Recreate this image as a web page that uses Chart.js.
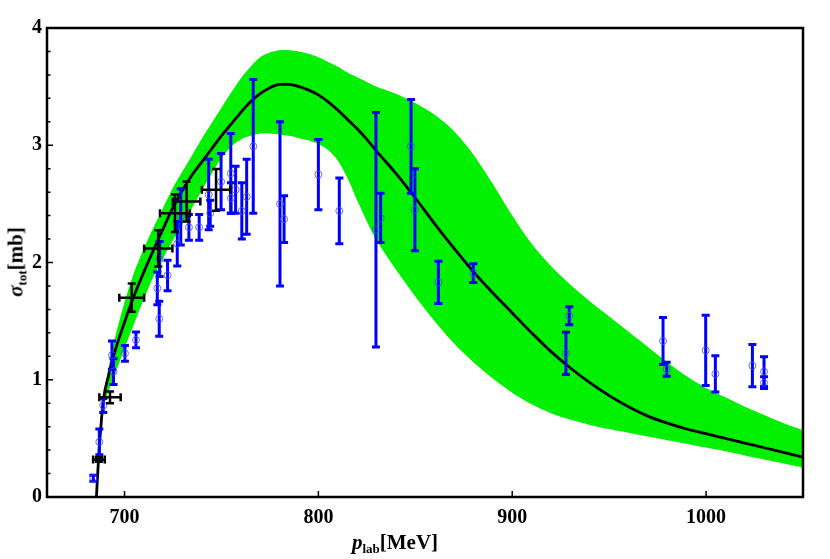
<!DOCTYPE html>
<html>
<head>
<meta charset="utf-8">
<script src="https://cdn.jsdelivr.net/npm/chart.js@4.4.1/dist/chart.umd.min.js"></script>
<style>
  body { margin: 0; background: #fff; }
  #wrap { position: relative; width: 830px; height: 559px; }
  .lbl { position: absolute; font-family: "Liberation Serif", serif; font-weight: bold; font-size: 21px; white-space: nowrap; color: #000; }
  .lbl sub { font-size: 13px; vertical-align: baseline; position: relative; top: 4px; }
  #ylab { left: 16px; top: 262px; transform: translate(-50%, -50%) rotate(-90deg); }
  #xlab { left: 395px; top: 542px; transform: translate(-50%, -50%); }
</style>
</head>
<body>
<div id="wrap">
  <canvas id="myChart" width="830" height="559"></canvas>
  <div class="lbl" id="ylab"><i>σ</i><sub>tot</sub>[mb]</div>
  <div class="lbl" id="xlab"><i>p</i><sub>lab</sub>[MeV]</div>
</div>
<script>
// tick labels
var xTicks = [700, 800, 900, 1000]
var yTicks = [0, 1, 2, 3, 4]

// theory curve (black line)
var curveX = [685.5, 686.5, 687.7, 689, 692, 695, 700, 705, 710, 715, 720, 725, 730, 735, 740, 745, 750, 755, 760, 765, 770, 775, 780, 785, 790, 795, 800, 805, 810, 815, 820, 825, 830, 840, 850, 860, 870, 880, 890, 900, 910, 920, 930, 940, 950, 960, 970, 980, 990, 1000, 1010, 1020, 1030, 1040, 1050]
var curveY = [0, 0.30, 0.58, 0.82, 1.05, 1.24, 1.49, 1.72, 1.92, 2.11, 2.29, 2.47, 2.62, 2.75, 2.86, 2.97, 3.08, 3.18, 3.28, 3.37, 3.44, 3.49, 3.52, 3.52, 3.50, 3.47, 3.43, 3.37, 3.30, 3.22, 3.14, 3.05, 2.95, 2.76, 2.55, 2.33, 2.12, 1.92, 1.74, 1.57, 1.40, 1.24, 1.10, 0.975, 0.865, 0.77, 0.69, 0.63, 0.58, 0.54, 0.50, 0.46, 0.42, 0.38, 0.34]

// uncertainty band (green)
var bandX = [688.5, 690, 695, 700, 705, 710, 715, 720, 725, 730, 735, 740, 745, 750, 755, 760, 765, 770, 775, 780, 785, 790, 795, 800, 805, 810, 815, 820, 825, 830, 840, 850, 860, 870, 880, 890, 900, 910, 920, 930, 940, 950, 960, 970, 980, 990, 1000, 1010, 1020, 1030, 1040, 1050]
var bandUpper = [0.72, 0.95, 1.35, 1.66, 1.92, 2.12, 2.30, 2.47, 2.64, 2.78, 2.92, 3.06, 3.19, 3.32, 3.45, 3.57, 3.67, 3.75, 3.79, 3.81, 3.81, 3.80, 3.78, 3.75, 3.71, 3.67, 3.62, 3.58, 3.54, 3.50, 3.44, 3.36, 3.26, 3.12, 2.92, 2.67, 2.40, 2.16, 1.97, 1.81, 1.67, 1.54, 1.41, 1.28, 1.15, 1.03, 0.93, 0.85, 0.77, 0.70, 0.63, 0.57]
var bandLower = [0.72, 0.82, 1.04, 1.27, 1.48, 1.69, 1.88, 2.04, 2.19, 2.33, 2.47, 2.62, 2.76, 2.89, 2.99, 3.05, 3.08, 3.10, 3.10, 3.09, 3.08, 3.06, 3.04, 3.01, 2.96, 2.87, 2.72, 2.53, 2.35, 2.19, 1.94, 1.71, 1.50, 1.31, 1.15, 1.01, 0.89, 0.79, 0.715, 0.66, 0.615, 0.58, 0.548, 0.516, 0.485, 0.455, 0.422, 0.39, 0.355, 0.32, 0.285, 0.25]

// blue data (open circles, vertical error bars)
var blueX = [683.9, 687.0, 689.0, 693.5, 694.3, 700.2, 705.9, 716.9, 717.9, 718.1, 722.2, 727.2, 729.0, 733.2, 738.5, 743.4, 744.2, 749.8, 754.8, 754.9, 757.3, 760.5, 763.0, 766.4, 780.2, 782.3, 800.0, 810.8, 829.7, 832.1, 847.8, 849.8, 861.9, 879.9, 927.7, 929.4, 977.8, 979.7, 999.8, 1004.8, 1023.9, 1029.9, 1029.9]
var blueY = [0.16, 0.47, 0.78, 1.21, 1.07, 1.225, 1.34, 1.78, 1.52, 2.03, 1.89, 2.16, 2.39, 2.30, 2.30, 2.58, 2.42, 2.69, 2.76, 2.55, 2.62, 2.44, 2.56, 2.99, 2.50, 2.37, 2.75, 2.44, 2.28, 2.38, 2.99, 2.45, 1.83, 1.91, 1.225, 1.546, 1.33, 1.09, 1.25, 1.05, 1.12, 1.07, 0.975]
var blueErr = [0.025, 0.11, 0.06, 0.12, 0.11, 0.067, 0.067, 0.14, 0.15, 0.15, 0.13, 0.19, 0.24, 0.11, 0.11, 0.30, 0.11, 0.24, 0.34, 0.13, 0.20, 0.24, 0.32, 0.57, 0.70, 0.20, 0.30, 0.28, 1.00, 0.21, 0.40, 0.35, 0.18, 0.08, 0.18, 0.077, 0.20, 0.06, 0.30, 0.155, 0.18, 0.127, 0.05]

// black data (crosses, x and y error bars)
var blackX = [686.8, 692.5, 703.7, 717.4, 726.0, 732.0, 747.2]
var blackY = [0.32, 0.85, 1.70, 2.12, 2.42, 2.52, 2.62]
var blackXErr = [3, 5.5, 6.4, 7.3, 7.7, 7.1, 7.3]
var blackYErr = [0.02, 0.05, 0.12, 0.155, 0.16, 0.17, 0.178]

function pts(xs, ys) {
  return xs.map(function(v, i) { return {x: v, y: ys[i]} })
}

// error bars, crosses, frame and inward ticks
var extras = {
  id: 'extras',
  beforeDatasetDraw: function(chart, args) {
    if (args.index !== 3) return
    var ctx = chart.ctx, sx = chart.scales.x, sy = chart.scales.y, a = chart.chartArea
    ctx.save()
    ctx.beginPath(); ctx.rect(a.left, a.top, a.right - a.left, a.bottom - a.top); ctx.clip()
    ctx.strokeStyle = '#0000ff'
    ctx.lineWidth = 3
    blueX.forEach(function(v, i) {
      var px = sx.getPixelForValue(v)
      var y1 = sy.getPixelForValue(blueY[i] + blueErr[i])
      var y2 = sy.getPixelForValue(blueY[i] - blueErr[i])
      ctx.beginPath()
      ctx.moveTo(px, y1); ctx.lineTo(px, y2)
      ctx.moveTo(px - 4, y1); ctx.lineTo(px + 4, y1)
      ctx.moveTo(px - 4, y2); ctx.lineTo(px + 4, y2)
      ctx.stroke()
    })
    ctx.restore()
  },
  afterDatasetsDraw: function(chart) {
    var ctx = chart.ctx, sx = chart.scales.x, sy = chart.scales.y
    ctx.save()
    ctx.strokeStyle = '#000'
    ctx.lineWidth = 2.5
    blackX.forEach(function(v, i) {
      var px = sx.getPixelForValue(v), py = sy.getPixelForValue(blackY[i])
      var x1 = sx.getPixelForValue(v - blackXErr[i]), x2 = sx.getPixelForValue(v + blackXErr[i])
      var y1 = sy.getPixelForValue(blackY[i] + blackYErr[i]), y2 = sy.getPixelForValue(blackY[i] - blackYErr[i])
      ctx.beginPath()
      ctx.moveTo(x1, py); ctx.lineTo(x2, py)
      ctx.moveTo(x1, py - 4); ctx.lineTo(x1, py + 4)
      ctx.moveTo(x2, py - 4); ctx.lineTo(x2, py + 4)
      ctx.moveTo(px, y1); ctx.lineTo(px, y2)
      ctx.moveTo(px - 4, y1); ctx.lineTo(px + 4, y1)
      ctx.moveTo(px - 4, y2); ctx.lineTo(px + 4, y2)
      ctx.stroke()
    })
    ctx.restore()
  },
  afterDraw: function(chart) {
    var ctx = chart.ctx, sx = chart.scales.x, sy = chart.scales.y, a = chart.chartArea
    ctx.save()
    ctx.strokeStyle = '#000'
    ctx.lineWidth = 1.5
    ctx.beginPath()
    xTicks.forEach(function(v) {
      var px = sx.getPixelForValue(v)
      ctx.moveTo(px, a.bottom); ctx.lineTo(px, a.bottom - 6)
    })
    for (var k = 0; k <= 20; k++) {
      var py = sy.getPixelForValue(k * 0.2)
      var len = (k % 5 === 0) ? 6 : 3.5
      ctx.moveTo(a.left, py); ctx.lineTo(a.left + len, py)
    }
    ctx.stroke()
    ctx.lineWidth = 2.5
    ctx.strokeRect(a.left, a.top, a.right - a.left, a.bottom - a.top)
    ctx.restore()
  }
}

var mychart = document.getElementById('myChart').getContext('2d')

var chart = new Chart(mychart, {
  type: 'scatter',
  data: {
    datasets: [{
      label: 'band upper',
      data: pts(bandX, bandUpper),
      showLine: true,
      borderWidth: 0,
      borderColor: 'rgba(0,0,0,0)',
      backgroundColor: '#00f000',
      pointRadius: 0,
      fill: '+1',
      tension: 0.3,
      order: 3
    },
    {
      label: 'band lower',
      data: pts(bandX, bandLower),
      showLine: true,
      borderWidth: 0,
      borderColor: 'rgba(0,0,0,0)',
      pointRadius: 0,
      fill: false,
      tension: 0.3,
      order: 4
    },
    {
      label: 'theory',
      data: pts(curveX, curveY),
      showLine: true,
      borderColor: '#000',
      borderWidth: 2.8,
      pointRadius: 0,
      fill: false,
      cubicInterpolationMode: 'monotone',
      order: 2
    },
    {
      label: 'data',
      data: pts(blueX, blueY),
      pointRadius: 3.5,
      pointBorderWidth: 1,
      borderColor: 'rgba(70,70,255,0.8)',
      backgroundColor: 'rgba(0,0,0,0)',
      order: 1
    }]
  },
  options: {
    responsive: false,
    animation: false,
    devicePixelRatio: 1,
    layout: { padding: { left: 0, top: 28, right: 27, bottom: 0 } },
    plugins: { legend: { display: false }, tooltip: { enabled: false } },
    scales: {
      x: {
        type: 'linear', min: 660, max: 1050,
        afterBuildTicks: function(s) { s.ticks = xTicks.map(function(v) { return {value: v} }) },
        afterFit: function(s) { s.height = 62 },
        grid: { display: false, drawTicks: false },
        border: { display: false },
        ticks: { padding: 9, color: '#000', maxRotation: 0, callback: function(v) { return String(v) },
                 font: { family: 'Liberation Serif', weight: 'bold', size: 20 } }
      },
      y: {
        type: 'linear', min: 0, max: 4,
        afterBuildTicks: function(s) { s.ticks = yTicks.map(function(v) { return {value: v} }) },
        afterFit: function(s) { s.width = 47 },
        grid: { display: false, drawTicks: false },
        border: { display: false },
        ticks: { padding: 5, color: '#000', callback: function(v) { return String(v) },
                 font: { family: 'Liberation Serif', weight: 'bold', size: 20 } }
      }
    }
  },
  plugins: [extras]
})
</script>
</body>
</html>
